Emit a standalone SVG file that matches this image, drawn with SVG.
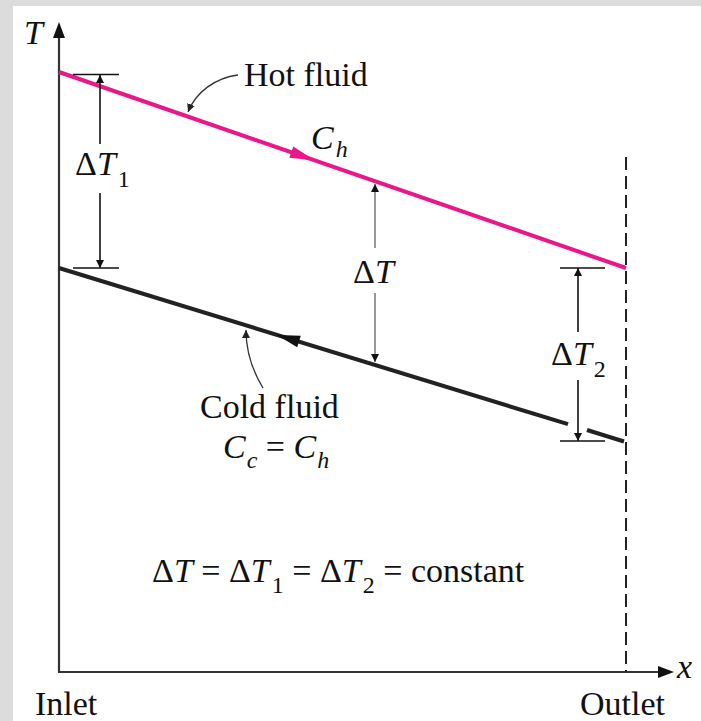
<svg xmlns="http://www.w3.org/2000/svg" width="701" height="721" viewBox="0 0 701 721">
<style>
  .lbl { font-family: "Liberation Serif", "Times New Roman", serif; font-size: 34px; fill: #111; }
  .it { font-style: italic; }
  .sub { font-size: 24px; }
  .axis { stroke: #333; stroke-width: 2.2; fill: none; }
  .dim { stroke: #111; stroke-width: 1.6; fill: none; }
  .dimg { stroke: #999; stroke-width: 2; fill: none; }
  .lead { stroke: #333; stroke-width: 1.3; fill: none; }
</style>
<defs>
  <marker id="ah" viewBox="0 0 10 10" refX="10" refY="5" markerWidth="8" markerHeight="13" markerUnits="userSpaceOnUse" orient="auto">
    <path d="M0,0 L10,5 L0,10 Z" fill="#111"/>
  </marker>
  <marker id="ahl" viewBox="0 0 10 10" refX="10" refY="5" markerWidth="8" markerHeight="12" markerUnits="userSpaceOnUse" orient="auto">
    <path d="M0,0 L10,5 L0,10 Z" fill="#222"/>
  </marker>
</defs>
<rect x="0" y="0" width="701" height="721" fill="#dcdcdc"/>
<rect x="13" y="6" width="688" height="715" fill="#ffffff"/>

<g id="axes">
  <line class="axis" x1="59" y1="672" x2="59" y2="36"/>
  <path d="M59,22 L65,38 L53,38 Z" fill="#111"/>
  <line class="axis" x1="58" y1="672" x2="660" y2="672"/>
  <path d="M674,672 L658,666 L658,678 Z" fill="#111"/>
  <text class="lbl it" x="24" y="44" font-size="36">T</text>
  <text class="lbl it" x="677" y="678" font-size="30">x</text>
  <text class="lbl" x="35" y="715">Inlet</text>
  <text class="lbl" x="580" y="715">Outlet</text>
</g>

<g id="outlet-line">
  <line x1="626" y1="157" x2="626" y2="672" stroke="#222" stroke-width="2" stroke-dasharray="13,6"/>
</g>

<g id="hot-fluid">
  <line x1="59" y1="72" x2="626" y2="268" stroke="#e8178a" stroke-width="4"/>
  <path d="M315,160.5 L289.3,157.8 L293.3,146.5 Z" fill="#e8178a"/>
  <text class="lbl" x="244" y="86">Hot fluid</text>
  <text class="lbl it" x="311" y="149">C<tspan class="sub" dx="2" dy="8">h</tspan></text>
</g>

<g id="cold-fluid">
  <line x1="59" y1="268" x2="568" y2="424.2" stroke="#222" stroke-width="4"/>
  <line x1="587" y1="430" x2="624" y2="441.5" stroke="#222" stroke-width="4"/>
  <path d="M277,335 L300.8,335.8 L297.2,347.2 Z" fill="#111"/>
  <text class="lbl" x="200" y="418">Cold fluid</text>
  <text class="lbl" x="223" y="458"><tspan class="it">C</tspan><tspan class="it sub" dx="1" dy="10">c</tspan><tspan dy="-10"> = </tspan><tspan class="it">C</tspan><tspan class="it sub" dx="1" dy="10">h</tspan></text>
</g>

<g id="dT1">
  <line class="dim" x1="73" y1="74.5" x2="119" y2="74.5"/>
  <line class="dim" x1="73" y1="268" x2="119" y2="268"/>
  <text class="lbl" x="75" y="175">Δ<tspan class="it">T</tspan><tspan class="sub" dx="2" dy="12">1</tspan></text>
</g>

<g id="dT">
  <text class="lbl" x="353" y="283">Δ<tspan class="it">T</tspan></text>
</g>

<g id="dT2">
  <line class="dim" x1="560" y1="268" x2="605" y2="268"/>
  <line class="dim" x1="560" y1="441" x2="605" y2="441"/>
  <text class="lbl" x="551" y="365">Δ<tspan class="it">T</tspan><tspan class="sub" dx="2" dy="12">2</tspan></text>
</g>

<g id="equation">
  <text class="lbl" x="152" y="582">Δ<tspan class="it">T</tspan> = Δ<tspan class="it">T</tspan><tspan class="sub" dx="2" dy="11">1</tspan><tspan dy="-11"> = Δ</tspan><tspan class="it">T</tspan><tspan class="sub" dx="2" dy="11">2</tspan><tspan dy="-11"> = constant</tspan></text>
</g>

<g id="connectors">
  <line class="dim" x1="100" y1="144" x2="100" y2="75" marker-end="url(#ah)"/>
  <line class="dim" x1="100" y1="193" x2="100" y2="268" marker-end="url(#ah)"/>
  <line class="dimg" x1="375" y1="248" x2="375" y2="184" marker-end="url(#ah)"/>
  <line class="dimg" x1="375" y1="293" x2="375" y2="362" marker-end="url(#ah)"/>
  <line class="dim" x1="578" y1="332" x2="578" y2="268" marker-end="url(#ah)"/>
  <line class="dim" x1="578" y1="380" x2="578" y2="441" marker-end="url(#ah)"/>
  <path class="lead" d="M238,75 C215,78 196,92 188,112" marker-end="url(#ahl)"/>
  <path class="lead" d="M263,388 C252,370 246,350 246,330" marker-end="url(#ahl)"/>
</g>
</svg>
